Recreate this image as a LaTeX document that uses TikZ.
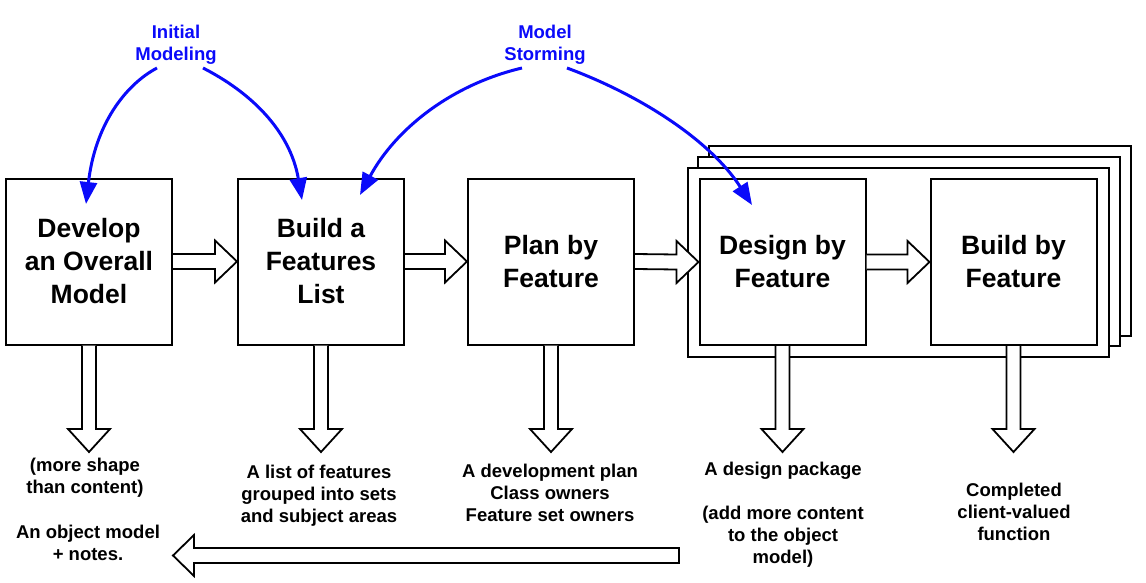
\documentclass[tikz,border=0pt]{standalone}
\usepackage{fontspec}
\setmainfont{Liberation Sans}
\usetikzlibrary{calc,arrows.meta}
\definecolor{myblue}{RGB}{10,10,250}
\tikzset{
  stage/.style={draw, line width=2pt, fill=white, minimum width=166pt, minimum height=166pt,
    inner sep=0pt, align=center, font=\bfseries\fontsize{26.5}{33}\selectfont},
  stackframe/.style={draw, line width=2pt, fill=white},
  blk/.style={draw, line width=1.8pt, fill=white, line join=miter},
  outtext/.style={align=center, inner sep=0pt, font=\bfseries\fontsize{18.5}{22}\selectfont},
  bluelbl/.style={outtext, text=myblue},
  bluearr/.style={draw=myblue, line width=3pt, -{Triangle[length=22pt,width=17pt]}},
}
\newcommand\HArrow[2]{%
  \filldraw[blk] ($(#1)+(0,-7.5)$) -- ($(#2)+(-22,-7.5)$) -- ($(#2)+(-22,-21)$) -- (#2)
    -- ($(#2)+(-22,21)$) -- ($(#2)+(-22,7.5)$) -- ($(#1)+(0,7.5)$);}
\newcommand\VArrow[2]{%
  \filldraw[blk] ($(#1)+(-7,0)$) -- ($(#2)+(-7,-23)$) -- ($(#2)+(-21,-23)$) -- (#2)
    -- ($(#2)+(21,-23)$) -- ($(#2)+(7,-23)$) -- ($(#1)+(7,0)$);}
\begin{document}
\begin{tikzpicture}[x=1pt,y=-1pt]
\useasboundingbox (0,0) rectangle (1146,583);
% stacked frames
\draw[stackframe] (709,146) rectangle (1131,336);
\draw[stackframe] (698,157) rectangle (1120,346);
\draw[stackframe] (688,168) rectangle (1109,357);
% stages
\node[stage] (b1) at (89,261.5) {Develop\\an Overall\\Model};
\node[stage] (b2) at (321,261.5) {Build a\\Features\\List};
\node[stage] (b3) at (551,261.5) {Plan by\\Feature};
\node[stage] (b4) at (782.5,262) {Design by\\Feature};
\node[stage] (b5) at (1013.5,262) {Build by\\Feature};
% horizontal block arrows
\HArrow{b1.east}{b2.west}
\HArrow{b2.east}{b3.west}
\HArrow{b3.east}{b4.west}
\HArrow{b4.east}{b5.west}
% down arrows
\coordinate (t1) at (89,452);
\coordinate (t2) at (321,452);
\coordinate (t3) at (551,452);
\coordinate (t4) at (782.5,452);
\coordinate (t5) at (1013.5,452);
\VArrow{b1.south}{t1}
\VArrow{b2.south}{t2}
\VArrow{b3.south}{t3}
\VArrow{b4.south}{t4}
\VArrow{b5.south}{t5}
% bottom feedback arrow
\coordinate (bs) at (679,555.5);
\coordinate (bt) at (173,555.5);
\filldraw[blk] ($(bs)+(0,-7.5)$) -- ($(bt)+(21,-7.5)$) -- ($(bt)+(21,-20.5)$) -- (bt)
  -- ($(bt)+(21,20.5)$) -- ($(bt)+(21,7.5)$) -- ($(bs)+(0,7.5)$) -- cycle;
% blue labels and curves
\node[bluelbl] (im) at (176,45) {Initial\\Modeling};
\node[bluelbl] (ms) at (545,45) {Model\\Storming};
\coordinate (iml) at (157,68);
\coordinate (imr) at (203,68);
\coordinate (msl) at (522,68);
\coordinate (msr) at (567,68);
\coordinate (e1) at (86,204);
\coordinate (e2) at (302,200);
\coordinate (e3) at (360,195);
\coordinate (e4) at (752,205);
\draw[bluearr] (iml) .. controls (125,85) and (95,125) .. (e1);
\draw[bluearr] (imr) .. controls (250,92) and (290,130) .. (e2);
\draw[bluearr] (msl) .. controls (450,85) and (395,130) .. (e3);
\draw[bluearr] (msr) .. controls (640,95) and (710,140) .. (e4);
% output texts
\node[outtext] (o1) at (85,478) {(more shape\\than content)};
\node[outtext] (o0) at (88,542.5) {An object model\\+ notes.};
\node[outtext] (o2) at (319,495.3) {A list of features\\grouped into sets\\and subject areas};
\node[outtext] (o3) at (550,493.3) {A development plan\\Class owners\\Feature set owners};
\node[outtext] (o4) at (783,514.5) {A design package\\[22pt](add more content\\to the object\\model)};
\node[outtext] (o5) at (1014,512.3) {Completed\\client-valued\\function};
\end{tikzpicture}
\end{document}
